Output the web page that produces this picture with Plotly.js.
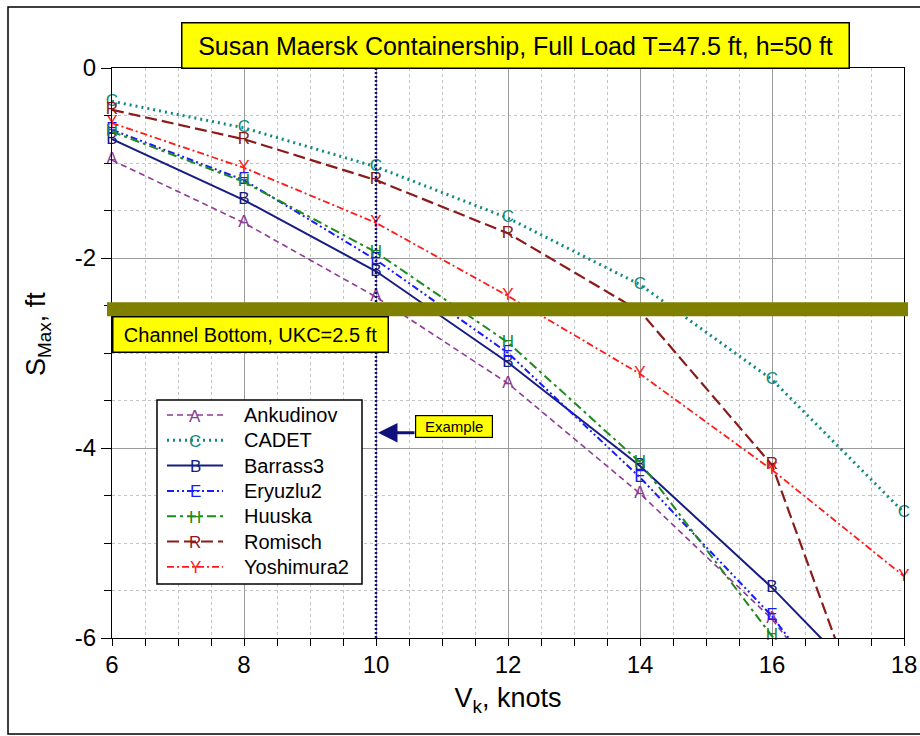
<!DOCTYPE html>
<html>
<head>
<meta charset="utf-8">
<script src="https://cdn.plot.ly/plotly-3.0.1.min.js"></script>
<style>
  html, body { margin: 0; padding: 0; background: #ffffff; }
  #chart { width: 920px; height: 736px; }
</style>
</head>
<body>
<div id="chart"></div>
<script>
// ---- data ----
const speedKnots  = [6, 8, 10, 12, 14, 16, 18];
const ankudinov   = [-0.97, -1.63, -2.41, -3.32, -4.48, -5.80, -7.6];
const cadet       = [-0.35, -0.63, -1.04, -1.58, -2.28, -3.28, -4.68];
const barrass3    = [-0.75, -1.39, -2.14, -3.10, -4.19, -5.47, -6.9];
const eryuzlu2    = [-0.65, -1.18, -2.02, -3.00, -4.31, -5.77, -7.6];
const huuska      = [-0.67, -1.20, -1.94, -2.89, -4.15, -5.98, -8.0];
const romisch     = [-0.44, -0.75, -1.18, -1.74, -2.56, -4.18, -8.0];
const yoshimura2  = [-0.58, -1.05, -1.63, -2.40, -3.22, -4.23, -5.35];

const xTickVals   = [6, 8, 10, 12, 14, 16, 18];
const yTickVals   = [0, -2, -4, -6];
const exampleSpeed = 10;
const exampleSquat = -3.84;
const channelBottom = -2.54;

const titleText   = 'Susan Maersk Containership, Full Load T=47.5 ft, h=50 ft';
const channelText = 'Channel Bottom, UKC=2.5 ft';
const exampleText = 'Example';
const xTitleText  = 'V<sub>k</sub>, knots';
const yTitleText  = 'S<sub>Max</sub>, ft';

// ---- styling ----
const ARIAL  = '"Liberation Sans", Arial, sans-serif';
const YMIN = -6, YMAX = 0;

const series = [
  {name: 'Ankudinov',  y: ankudinov,  letter: 'A', color: '#8e3a96', dash: '6px,4px',                    width: 1.6},
  {name: 'CADET',      y: cadet,      letter: 'C', color: '#0f8a7e', dash: '2px,4px',                    width: 3},
  {name: 'Barrass3',   y: barrass3,   letter: 'B', color: '#161c82', dash: 'solid',                      width: 2},
  {name: 'Eryuzlu2',   y: eryuzlu2,   letter: 'E', color: '#1a1aff', dash: '7px,3px,2px,3px,2px,3px',     width: 2},
  {name: 'Huuska',     y: huuska,     letter: 'H', color: '#1c8a1c', dash: '9px,4px,3px,4px',             width: 2},
  {name: 'Romisch',    y: romisch,    letter: 'R', color: '#8b1a1a', dash: '12px,5px',                    width: 2.2},
  {name: 'Yoshimura2', y: yoshimura2, letter: 'Y', color: '#ff1a1a', dash: '7px,3px,2px,3px',             width: 1.8}
];

// plot area in pixels
const PL = 112, PR = 904, PT = 68, PB = 638;
const px = v => (v - PL) / (PR - PL);
const py = v => (PB - v) / (PB - PT);

const traces = series.map(s => ({
  type: 'scatter',
  mode: 'lines+text',
  x: speedKnots,
  y: s.y,
  text: s.y.map(v => (v >= YMIN && v <= YMAX) ? s.letter : ''),
  textposition: 'middle center',
  textfont: {family: ARIAL, size: 17, color: s.color},
  cliponaxis: false,
  line: {color: s.color, dash: s.dash, width: s.width},
  name: s.name,
  showlegend: false,
  hoverinfo: 'x+y+name'
}));

const shapes = [];
const annotations = [];

// outer frame
shapes.push({type: 'rect', xref: 'paper', yref: 'paper',
  x0: px(8), x1: px(921), y0: py(734), y1: py(7),
  line: {color: '#000', width: 1.5}, fillcolor: 'rgba(0,0,0,0)', layer: 'below'});

// example vertical line
shapes.push({type: 'line', xref: 'x', yref: 'paper', x0: exampleSpeed, x1: exampleSpeed, y0: 0, y1: 1,
  line: {color: '#10107a', width: 2.5, dash: '2px,2px'}});

// channel bottom band
shapes.push({type: 'line', xref: 'paper', yref: 'y', x0: px(107), x1: px(908),
  y0: channelBottom, y1: channelBottom, line: {color: '#7f7f00', width: 14}});

// title box
annotations.push({xref: 'paper', yref: 'paper', x: px(515), y: py(45), xanchor: 'center', yanchor: 'middle',
  text: titleText, showarrow: false, font: {family: ARIAL, size: 25, color: '#000'},
  bgcolor: '#ffff00', bordercolor: '#000', borderwidth: 1.5, borderpad: 0, width: 666, height: 44});

// y axis title
annotations.push({xref: 'paper', yref: 'paper', x: px(38), y: py(334), xanchor: 'center', yanchor: 'middle',
  text: yTitleText, textangle: -90, showarrow: false, font: {family: ARIAL, size: 27, color: '#000'}});

// channel bottom label
annotations.push({xref: 'paper', yref: 'paper', x: px(250), y: py(334), xanchor: 'center', yanchor: 'middle',
  text: channelText, showarrow: false, font: {family: ARIAL, size: 20, color: '#000'},
  bgcolor: '#ffff00', bordercolor: '#000', borderwidth: 1.5, borderpad: 0, width: 274, height: 34});

// example arrow and label
annotations.push({xref: 'x', yref: 'y', x: exampleSpeed, y: exampleSquat, ax: 40, ay: 0,
  text: '', showarrow: true, arrowhead: 2, arrowsize: 1.3, arrowwidth: 3, arrowcolor: '#10107a', standoff: 2});
annotations.push({xref: 'paper', yref: 'paper', x: px(454), y: py(426.5), xanchor: 'center', yanchor: 'middle',
  text: exampleText, showarrow: false, font: {family: ARIAL, size: 15, color: '#000'},
  bgcolor: '#ffff00', bordercolor: '#000', borderwidth: 1.2, borderpad: 0, width: 76, height: 21});

// custom legend
shapes.push({type: 'rect', xref: 'paper', yref: 'paper', x0: px(157), x1: px(362), y0: py(584), y1: py(400),
  line: {color: '#000', width: 1.5}, fillcolor: '#ffffff'});
series.forEach((s, i) => {
  const rowY = 415 + i * 25.3;
  shapes.push({type: 'line', xref: 'paper', yref: 'paper', x0: px(167), x1: px(223), y0: py(rowY), y1: py(rowY),
    line: {color: s.color, dash: s.dash, width: s.width}});
  annotations.push({xref: 'paper', yref: 'paper', x: px(195), y: py(rowY + 1), xanchor: 'center', yanchor: 'middle',
    text: s.letter, showarrow: false, font: {family: ARIAL, size: 17, color: s.color}});
  annotations.push({xref: 'paper', yref: 'paper', x: px(242), y: py(rowY), xanchor: 'left', yanchor: 'middle',
    text: s.name, showarrow: false, font: {family: ARIAL, size: 20, color: '#000'}});
});

const layout = {
  width: 920, height: 736,
  margin: {l: PL, r: 920 - PR, t: PT, b: 736 - PB, pad: 0},
  paper_bgcolor: '#ffffff', plot_bgcolor: '#ffffff',
  showlegend: false,
  xaxis: {
    range: [6, 18], tickvals: xTickVals, ticktext: xTickVals.map(String),
    ticks: 'outside', ticklen: 5, tickwidth: 1, tickcolor: '#000',
    showline: true, linecolor: '#000', linewidth: 1, mirror: true,
    showgrid: true, gridcolor: '#9a9a9a', gridwidth: 1, zeroline: false,
    tickfont: {family: ARIAL, size: 24, color: '#000'},
    minor: {dtick: 0.5, ticks: 'outside', ticklen: 7, tickcolor: '#000', showgrid: true, gridcolor: '#c4c4c4', griddash: 'dot', gridwidth: 1},
    title: {text: xTitleText, font: {family: ARIAL, size: 27, color: '#000'}, standoff: 11}
  },
  yaxis: {
    range: [YMIN, YMAX], tickvals: yTickVals, ticktext: yTickVals.map(String),
    ticks: 'outside', ticklen: 10, tickwidth: 1, tickcolor: '#000',
    showline: true, linecolor: '#000', linewidth: 1, mirror: true,
    showgrid: true, gridcolor: '#9a9a9a', gridwidth: 1, zeroline: false,
    tickfont: {family: ARIAL, size: 24, color: '#000'},
    minor: {dtick: 0.5, ticks: 'outside', ticklen: 7, tickcolor: '#000', showgrid: true, gridcolor: '#c4c4c4', griddash: 'dot', gridwidth: 1}
  },
  shapes: shapes,
  annotations: annotations
};

Plotly.newPlot('chart', traces, layout, {staticPlot: true, displayModeBar: false});
</script>
</body>
</html>
